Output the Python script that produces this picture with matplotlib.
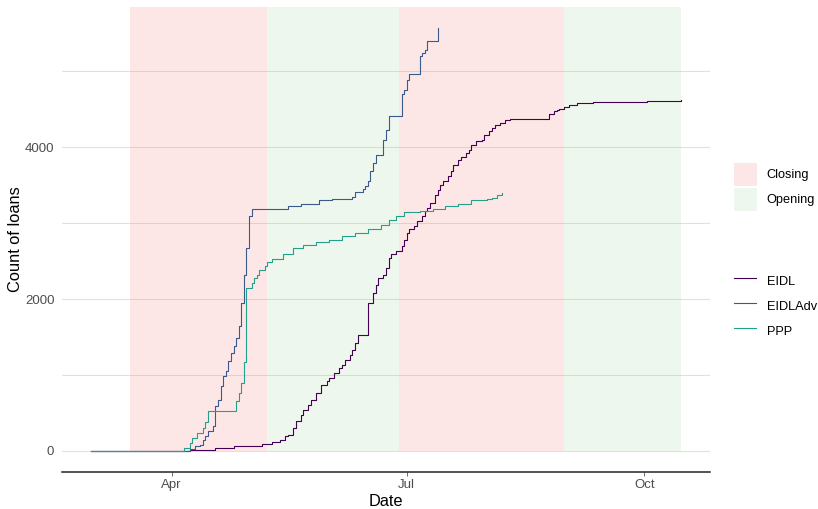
import numpy as np
import pandas as pd
import matplotlib
matplotlib.use('Agg')
import matplotlib.pyplot as plt
import matplotlib.dates as mdates
from matplotlib.patches import Patch
from matplotlib.lines import Line2D

plt.rcParams['font.family'] = ['Liberation Sans', 'DejaVu Sans']

# cumulative loan counts (step series)
eidl_dates = ['03-01', '04-05', '04-08', '04-18', '04-25', '05-06', '05-10', '05-13', '05-15',
              '05-16', '05-18', '05-19', '05-21', '05-22', '05-24', '05-25', '05-27', '05-29',
              '05-31', '06-01', '06-03', '06-05', '06-06', '06-07', '06-09', '06-10', '06-11',
              '06-12', '06-16', '06-18', '06-19', '06-20', '06-22', '06-23', '06-24', '06-25',
              '06-27', '06-29', '06-30', '07-01', '07-02', '07-04', '07-05', '07-07', '07-08',
              '07-09', '07-10', '07-12', '07-13', '07-14', '07-15', '07-17', '07-18', '07-19',
              '07-21', '07-22', '07-24', '07-25', '07-26', '07-28', '07-30', '07-31', '08-02',
              '08-03', '08-04', '08-06', '08-08', '08-10', '08-17', '08-25', '08-27', '08-28',
              '08-29', '08-31', '09-02', '09-05', '09-11', '09-19', '10-02', '10-15']
eidl_vals = [0, 0, 15, 40, 61, 92, 114, 149, 193,
             215, 303, 390, 478, 544, 610, 676, 764, 873,
             917, 962, 1027, 1093, 1137, 1203, 1269, 1335, 1423,
             1532, 1950, 2081, 2191, 2279, 2323, 2411, 2543, 2600,
             2630, 2696, 2784, 2872, 2925, 2960, 3025, 3091, 3157,
             3202, 3268, 3377, 3443, 3509, 3552, 3618, 3684, 3772,
             3829, 3874, 3926, 3970, 4036, 4079, 4101, 4167, 4211,
             4255, 4299, 4321, 4356, 4374, 4378, 4440, 4474, 4497,
             4506, 4532, 4562, 4580, 4593, 4602, 4611, 4619]

adv_dates = ['03-01', '04-05', '04-08', '04-10', '04-12', '04-13', '04-14', '04-15', '04-17',
             '04-18', '04-19', '04-20', '04-21', '04-22', '04-23', '04-24', '04-25', '04-26',
             '04-27', '04-28', '04-29', '04-30', '05-01', '05-02', '05-16', '05-21', '05-28',
             '06-02', '06-10', '06-11', '06-14', '06-15', '06-16', '06-17', '06-18', '06-19',
             '06-22', '06-23', '06-24', '06-28', '06-29', '06-30', '07-01', '07-02', '07-06',
             '07-07', '07-08', '07-09', '07-13']
adv_vals = [0, 0, 20, 61, 83, 149, 193, 259, 333,
            588, 676, 851, 983, 1049, 1181, 1291, 1378, 1489,
            1650, 1950, 2323, 2674, 3091, 3188, 3223, 3258, 3302,
            3320, 3346, 3407, 3452, 3486, 3552, 3684, 3794, 3904,
            4101, 4233, 4408, 4418, 4704, 4760, 4892, 4971, 5208,
            5244, 5287, 5397, 5573]

ppp_dates = ['03-01', '04-04', '04-06', '04-08', '04-09', '04-11', '04-13', '04-14', '04-15',
             '04-26', '04-27', '04-28', '04-29', '04-30', '05-02', '05-03', '05-04', '05-05',
             '05-07', '05-08', '05-10', '05-14', '05-18', '05-22', '05-27', '06-01', '06-06',
             '06-11', '06-16', '06-21', '06-24', '06-27', '06-30', '07-06', '07-11', '07-16',
             '07-21', '07-26', '08-01', '08-03', '08-05', '08-07']
ppp_vals = [0, 0, 40, 110, 175, 240, 305, 375, 522,
            653, 767, 896, 1168, 2147, 2213, 2279, 2323, 2389,
            2441, 2485, 2530, 2600, 2674, 2718, 2753, 2784, 2827,
            2872, 2925, 2981, 3038, 3100, 3143, 3160, 3188, 3223,
            3258, 3302, 3320, 3333, 3377, 3399]

# closing / opening periods
phase_start = ['03-16', '05-08', '06-28', '08-31']
phase_end = ['05-08', '06-28', '08-31', '10-15']
phase_kind = ['Closing', 'Opening', 'Closing', 'Opening']


def to_dt(md):
    return pd.to_datetime(['2020-' + s for s in md])


series = [('EIDL', eidl_dates, eidl_vals, '#440154'),
          ('EIDLAdv', adv_dates, adv_vals, '#3A5A8C'),
          ('PPP', ppp_dates, ppp_vals, '#23A08B')]
phase_col = {'Closing': ('#F8766D', 0.17), 'Opening': ('#7AC571', 0.12)}

fig = plt.figure(figsize=(8.18, 5.09), dpi=100)
ax = fig.add_axes([62 / 818, 1 - 472 / 509, 648 / 818, 465.3 / 509])

ymax = max(max(eidl_vals), max(adv_vals), max(ppp_vals))
ylo, yhi = -0.05 * ymax, 1.05 * ymax
ax.set_ylim(ylo, yhi)

xmin = to_dt(['03-01'])[0]
xmax = to_dt(['10-15'])[0]
pad = (xmax - xmin) * 0.05
ax.set_xlim(xmin - pad, xmax + pad)

for s, e, k in zip(to_dt(phase_start), to_dt(phase_end), phase_kind):
    c, a = phase_col[k]
    ax.axvspan(s, e, ymin=(0 - ylo) / (yhi - ylo), ymax=1, facecolor=c, alpha=a,
               linewidth=0, zorder=1)

for name, d, v, c in series:
    ax.plot(to_dt(d), v, drawstyle='steps-post', color=c, lw=0.8, zorder=3)

ax.set_yticks([0, 2000, 4000])
ax.set_yticks([1000, 3000, 5000], minor=True)
ax.set_axisbelow(True)
ax.grid(axis='y', which='both', color='#E0E0E0', lw=0.8)
ax.xaxis.set_major_locator(mdates.MonthLocator(bymonth=[4, 7, 10]))
ax.xaxis.set_major_formatter(mdates.DateFormatter('%b'))

for sp in ['top', 'right', 'left']:
    ax.spines[sp].set_visible(False)
ax.spines['bottom'].set_linewidth(1.1)
ax.spines['bottom'].set_color('#222222')
ax.tick_params(axis='y', which='both', length=0, pad=5.5, labelsize=9.5, labelcolor='#4D4D4D')
ax.tick_params(axis='x', length=3, width=0.6, color='#555555', pad=2,
               labelsize=9.5, labelcolor='#4D4D4D')

ax.set_xlabel('Date', fontsize=11.8, labelpad=2)
ax.set_ylabel('Count of loans', fontsize=11.8, labelpad=1)

fs = 9.2
hh = 2.39
fill_handles = [Patch(facecolor=phase_col[k][0], alpha=phase_col[k][1], linewidth=0)
                for k in ['Closing', 'Opening']]
leg1 = fig.legend(fill_handles, ['Closing', 'Opening'], loc='upper left',
                  bbox_to_anchor=(734 / 818, 1 - 163 / 509), frameon=False, fontsize=fs,
                  handlelength=1.8, handleheight=hh, handletextpad=0.75,
                  labelspacing=0.156, borderpad=0, borderaxespad=0)
line_handles = [Line2D([], [], color=c, lw=0.8) for _, _, _, c in series]
leg2 = fig.legend(line_handles, [n for n, _, _, _ in series], loc='upper left',
                  bbox_to_anchor=(734 / 818, 1 - 270 / 509), frameon=False, fontsize=fs,
                  handlelength=1.7, handleheight=hh, handletextpad=0.85,
                  labelspacing=0.156, borderpad=0, borderaxespad=0)

fig.savefig('out.png', dpi=100)
